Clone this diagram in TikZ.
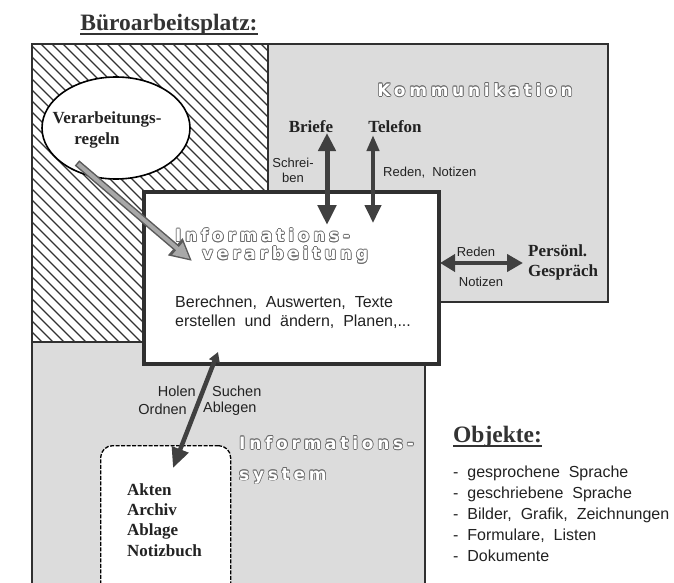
\documentclass[tikz,border=0pt]{standalone}
\usepackage{fontspec}
\setmainfont{Liberation Serif}
\setsansfont{Liberation Sans}[WordSpace=2]
\newfontfamily\outlfont{DejaVu Sans}[LetterSpace=22]
\usetikzlibrary{arrows.meta,shapes.geometric}
\definecolor{txt}{HTML}{222222}
\definecolor{arr}{HTML}{404040}
\definecolor{fillg}{HTML}{DCDCDC}
\definecolor{frame}{HTML}{303030}
\definecolor{hatchc}{HTML}{333333}
\definecolor{outc}{HTML}{6A6A6A}
\definecolor{arrgdark}{HTML}{5A5A5A}
\definecolor{arrglight}{HTML}{A8A8A8}
% outlined label: #1 name, #2 position, #3 anchor, #4 text
\newcommand\outlnode[4]{%
  \foreach \dx/\dy [count=\k] in {0.75/0,-0.75/0,0/0.75,0/-0.75,0.53/0.53,-0.53/0.53,0.53/-0.53,-0.53/-0.53}
    {\node[outlined, text=outc, anchor=#3, xshift=\dx pt, yshift=\dy pt] (#1o\k) at (#2) {#4};}
  \node[outlined, text=white, anchor=#3] (#1) at (#2) {#4};}
\begin{document}
\begin{tikzpicture}[x=1pt,y=-1pt,
 lbl/.style={inner sep=0pt, text=txt},
 serifb/.style={lbl, font=\fontsize{17}{20.3}\selectfont\bfseries},
 sanss/.style={lbl, font=\sffamily\fontsize{13}{15}\selectfont},
 sansh/.style={lbl, font=\sffamily\fontsize{14.5}{17}\selectfont},
 sansm/.style={lbl, font=\sffamily\fontsize{16}{19.5}\selectfont},
 outlined/.style={lbl, align=left, font=\outlfont\bfseries\fontsize{17}{18}\selectfont},
 heading/.style={lbl, font=\fontsize{23.5}{27}\selectfont\bfseries, text=black!80},
 thickarr/.style={draw=arr, line width=5pt},
 regionline/.style={draw=frame, line width=1.8pt}]
\clip (0,0) rectangle (674,583);
\fill[white] (0,0) rectangle (674,583);
% regions
\fill[fillg] (268,44) rectangle (608,302);
\fill[fillg] (32,342) rectangle (425,583);
\begin{scope}
\clip (32,44) rectangle (268,342);
\foreach \i in {-310,-299,...,250} \draw[line width=1.3pt, hatchc] (32+\i,44) -- ++(330,330);
\end{scope}
\draw[regionline] (32,590) -- (32,44) -- (608,44) -- (608,302) -- (437,302);
\draw[regionline] (268,44) -- (268,190);
\draw[regionline] (32,342) -- (142,342);
\draw[regionline] (425,362) -- (425,590);
% shapes
\node[ellipse, draw=black, line width=1.6pt, fill=white, minimum width=148pt, minimum height=102pt, inner sep=0pt] (ell) at (116,128) {};
\node[draw=frame, line width=3.5pt, fill=white, minimum width=295pt, minimum height=172pt, anchor=north west, inner sep=0pt] (box) at (142,190) {};
\node[draw=black, line width=1.3pt, dash pattern=on 4pt off 1.5pt, rounded corners=12pt, fill=white, anchor=north west, minimum width=130pt, minimum height=160pt, inner sep=0pt] (akt) at (100,445) {};
% connectors
\coordinate (vs) at (77,163);
\coordinate (ve) at (192,261);
\draw[line width=7pt, draw=arrgdark, -{Triangle[width=21pt,length=22pt,fill=arrgdark]}] (vs) -- (ve);
\draw[line width=4pt, draw=arrglight, shorten <=1.5pt, shorten >=3pt, -{Triangle[width=15pt,length=16pt,fill=arrglight]}] (vs) -- (ve);
\coordinate (bt) at (327,133);
\coordinate (bb) at (327,225);
\draw[thickarr, {Triangle[width=17pt,length=18pt]}-{Triangle[width=18pt,length=20pt]}] (bt) -- (bb);
\coordinate (tt) at (373,135);
\coordinate (tb) at (373,223);
\draw[thickarr, line width=4pt, {Triangle[width=12pt,length=16pt]}-{Triangle[width=16pt,length=18pt]}] (tt) -- (tb);
\coordinate (pl) at (440,263);
\coordinate (pr) at (523,263);
\draw[thickarr, line width=4pt, {Triangle[width=17pt,length=15pt]}-{Triangle[width=17pt,length=16pt]}] (pl) -- (pr);
\coordinate (ht) at (218,352);
\coordinate (hb) at (173,468);
\draw[thickarr, line width=4.5pt, {Triangle[width=11pt,length=10pt]}-{Triangle[width=17pt,length=20pt]}] (ht) -- (hb);
% texts
\node[heading, anchor=base] (title) at (169,31) {Büroarbeitsplatz:};
\draw[line width=1.8pt, black!80] ([yshift=-3pt]title.base west) -- ([yshift=-3pt]title.base east);
\outlnode{komm}{475,90}{center}{Kommunikation}
\node[serifb] (briefe) at (311,127) {Briefe};
\node[serifb] (telefon) at (395,127) {Telefon};
\node[sanss, align=center] (schrei) at (293,170) {Schrei-\\ben};
\node[sanss, anchor=west] (rn1) at (383,173) {Reden, Notizen};
\node[serifb, anchor=west, align=left] (pers) at (528,262.5) {Persönl.\\Gespräch};
\node[sanss] (rn2a) at (476,252) {Reden};
\node[sanss] (rn2b) at (481,282) {Notizen};
\node[serifb, align=center] (verr) at (107,130) {Verarbeitungs-\\regeln\hspace*{20pt}};
\outlnode{iv}{175,246}{west}{Informations-\\\hspace*{27pt}verarbeitung}
\node[sansm, anchor=west, align=left] (ber) at (175,312) {Berechnen, Auswerten, Texte\\erstellen und ändern, Planen,...};
\node[sansh, anchor=east] (holen) at (196,391) {Holen};
\node[sansh, anchor=west] (suchen) at (212,391) {Suchen};
\node[sansh, anchor=east] (ordnen) at (187,409) {Ordnen};
\node[sansh, anchor=west] (ablegen) at (203,409) {Ablegen};
\outlnode{is1}{239,443}{west}{Informations-}
\outlnode{is2}{239,476}{west}{system}
\node[serifb, anchor=west, align=left] (akten) at (127,520) {Akten\\Archiv\\Ablage\\Notizbuch};
\node[heading, anchor=base west] (obj) at (453,442) {Objekte:};
\draw[line width=1.8pt, black!80] ([yshift=-4pt]obj.base west) -- ([yshift=-4pt]obj.base east);
\node[sansm, anchor=west, align=left, font=\sffamily\fontsize{16}{21}\selectfont] (list) at (453,514) {- gesprochene Sprache\\- geschriebene Sprache\\- Bilder, Grafik, Zeichnungen\\- Formulare, Listen\\- Dokumente};
\end{tikzpicture}
\end{document}
